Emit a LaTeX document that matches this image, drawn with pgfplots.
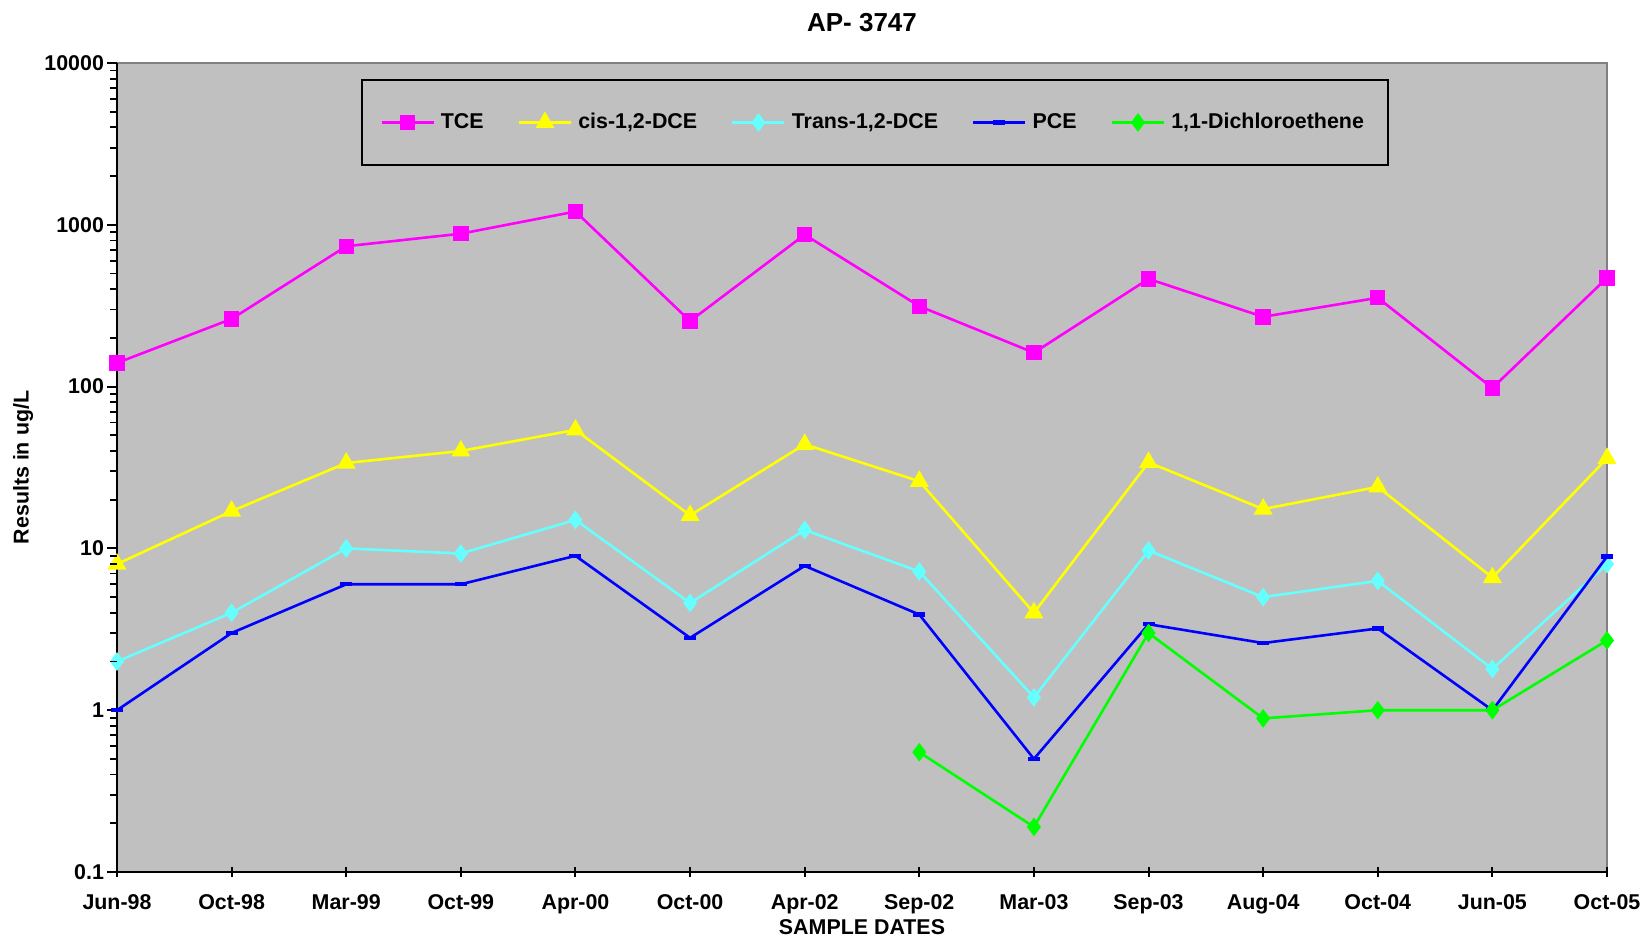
\documentclass[border=0pt]{standalone}
\usepackage{pgfplots}
\pgfplotsset{compat=1.18}
\usepackage{fontspec}
\setmainfont{Liberation Sans}

\definecolor{bggray}{HTML}{C0C0C0}
\definecolor{tce}{HTML}{FF00FF}
\definecolor{cisdce}{HTML}{FFFF00}
\definecolor{transdce}{HTML}{66FFFF}
\definecolor{pce}{HTML}{0000FF}
\definecolor{dce11}{HTML}{00FF00}

\begin{document}
\begin{tikzpicture}
\begin{axis}[
	scale only axis,
	width=745pt, height=404.5pt,
	clip mode=individual,
	ymode=log,
	ymin=0.1, ymax=10000,
	xmin=0, xmax=13,
	xtick={0,...,13},
	xticklabels={Jun-98,Oct-98,Mar-99,Oct-99,Apr-00,Oct-00,Apr-02,Sep-02,Mar-03,Sep-03,Aug-04,Oct-04,Jun-05,Oct-05},
	log ticks with fixed point,
	/pgf/number format/1000 sep={},
	/pgf/number format/assume math mode=true,
	axis lines*=left,
	axis line style={line width=1.4pt, black},
	axis background/.style={fill=bggray, draw=gray, line width=0.8pt},
	xtick align=center, ytick align=outside,
	major tick length=5pt, minor tick length=3.5pt,
	major tick style={line width=1pt, black},
	tick label style={font=\bfseries\fontsize{10.7}{12}\selectfont},
	xticklabel style={yshift=-5pt},
	yticklabel style={xshift=2pt},
	title={\bfseries\fontsize{13}{15}\selectfont AP- 3747},
	title style={at={(axis description cs:0.5,1)}, anchor=center, yshift=14pt},
	xlabel={\bfseries\fontsize{10.7}{12}\selectfont SAMPLE DATES},
	xlabel style={at={(axis description cs:0.5,0)}, anchor=center, yshift=-27.5pt},
	ylabel={\bfseries\fontsize{10.7}{12}\selectfont Results in ug/L},
	ylabel style={at={(axis description cs:-0.063,0.5)}, anchor=center},
	legend columns=5,
	legend style={
		at={(axis description cs:0.1638,0.9802)}, anchor=north west,
		fill=bggray, draw=black, line width=1.2pt,
		inner xsep=9pt, inner ysep=14.5pt,
		font=\bfseries\fontsize{10.7}{12}\selectfont,
		/tikz/every even column/.append style={column sep=14pt},
		nodes={inner xsep=3pt},
	},
	legend image code/.code={
		\draw[mark repeat=2, mark phase=2, #1] plot coordinates {(0pt,0pt) (13pt,0pt) (26pt,0pt)};
	},
	every axis plot/.append style={line width=1.3pt},
]
\addplot[color=tce, mark=square*, mark size=3.2pt, mark options={solid}] coordinates {
	(0,140) (1,262) (2,737) (3,881) (4,1208) (5,254) (6,869) (7,314)
	(8,162) (9,463) (10,270) (11,354) (12,98) (13,470)};
\addlegendentry{TCE}
\addplot[color=cisdce, mark=triangle*, mark size=4.2pt] coordinates {
	(0,8.0) (1,17) (2,33.7) (3,40) (4,54) (5,16) (6,44) (7,26)
	(8,4.0) (9,34) (10,17.5) (11,24) (12,6.6) (13,36)};
\addlegendentry{cis-1,2-DCE}
\addplot[color=transdce, mark=diamond*, mark size=3.6pt] coordinates {
	(0,2.0) (1,4.0) (2,10) (3,9.3) (4,15) (5,4.6) (6,13) (7,7.2)
	(8,1.2) (9,9.7) (10,5.0) (11,6.3) (12,1.8) (13,8.0)};
\addlegendentry{Trans-1,2-DCE}
\addplot[color=pce, mark=-, mark size=3pt, mark options={line width=2.2pt}] coordinates {
	(0,1.0) (1,3.0) (2,6.0) (3,6.0) (4,9.0) (5,2.8) (6,7.8) (7,3.9)
	(8,0.5) (9,3.4) (10,2.6) (11,3.2) (12,1.0) (13,8.9)};
\addlegendentry{PCE}
\addplot[color=dce11, mark=diamond*, mark size=3.6pt] coordinates {
	(7,0.55) (8,0.19) (9,3.0) (10,0.89) (11,1.0) (12,1.0) (13,2.7)};
\addlegendentry{1,1-Dichloroethene}
% minor ticks of the log axis, drawn by hand
\pgfplotsinvokeforeach{0.2,0.3,0.4,0.5,0.6,0.7,0.8,0.9,2,3,4,5,6,7,8,9,20,30,40,50,60,70,80,90,200,300,400,500,600,700,800,900,2000,3000,4000,5000,6000,7000,8000,9000}{
	\draw[black, line width=0.9pt] (axis cs:0,#1) -- ++(-3.5pt,0pt);
}
\coordinate (sw) at (rel axis cs:0,0);
\coordinate (ne) at (rel axis cs:1,1);
\end{axis}
\pgfresetboundingbox
\path ([shift={(-58.5pt,-33pt)}]sw) rectangle ([shift={(21.5pt,31.5pt)}]ne);
\end{tikzpicture}
\end{document}
